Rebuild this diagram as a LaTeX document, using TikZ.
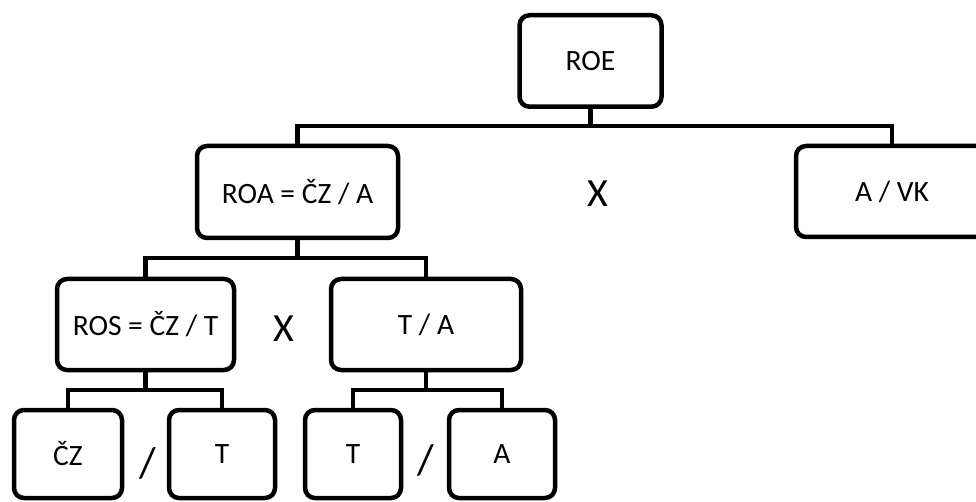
\documentclass[tikz,border=0pt]{standalone}
\usepackage{fontspec}
\setmainfont{Carlito}
\begin{document}
\begin{tikzpicture}[x=1pt,y=-1pt,
  box/.style={draw,line width=4.5pt,rounded corners=10pt,inner sep=0pt,outer sep=0pt,
    font=\fontsize{29.5}{33}\selectfont,align=center},
  conn/.style={line width=4.5pt},
  big/.style={font=\fontsize{40}{44}\selectfont,inner sep=0pt}]
\clip (0,0) rectangle (976,502);
\fill[white] (0,0) rectangle (976,502);
\node[box,minimum width=142pt,minimum height=91.5pt] (roe) at (590.5,61) {ROE};
\node[box,minimum width=201pt,minimum height=92pt] (roa) at (297.5,192) {ROA = ČZ / A};
\node[box,minimum width=192pt,minimum height=91pt] (avk) at (892,191.5) {A / VK};
\node[box,minimum width=177pt,minimum height=91pt] (ros) at (145.5,324.5) {ROS = ČZ / T};
\node[box,minimum width=190pt,minimum height=91pt] (ta) at (426,324.5) {T / A};
\node[box,minimum width=108pt,minimum height=88pt] (cz) at (68,454) {ČZ};
\node[box,minimum width=106pt,minimum height=88pt] (t1) at (222,454) {T};
\node[box,minimum width=96pt,minimum height=88pt] (t2) at (353,454) {T};
\node[box,minimum width=106pt,minimum height=88pt] (a) at (502,454) {A};
\node[big] (x1) at (598,194) {X};
\node[big] (x2) at (284,329) {X};
\node[big,font=\fontsize{43}{46}\selectfont] (s1) at (148,463) {/};
\node[big,font=\fontsize{43}{46}\selectfont] (s2) at (426,460) {/};
\coordinate (j1) at (590.5,126);
\coordinate (j2) at (297.5,258);
\coordinate (j3) at (145.5,390);
\coordinate (j4) at (426,390);
\draw[conn] (roe.south) -- (j1);
\draw[conn] (roa.north) |- (j1) -| (avk.north);
\draw[conn] (roa.south) -- (j2);
\draw[conn] (ros.north) |- (j2) -| (ta.north);
\draw[conn] (ros.south) -- (j3);
\draw[conn] (cz.north) |- (j3) -| (t1.north);
\draw[conn] (ta.south) -- (j4);
\draw[conn] (t2.north) |- (j4) -| (a.north);
\end{tikzpicture}
\end{document}
